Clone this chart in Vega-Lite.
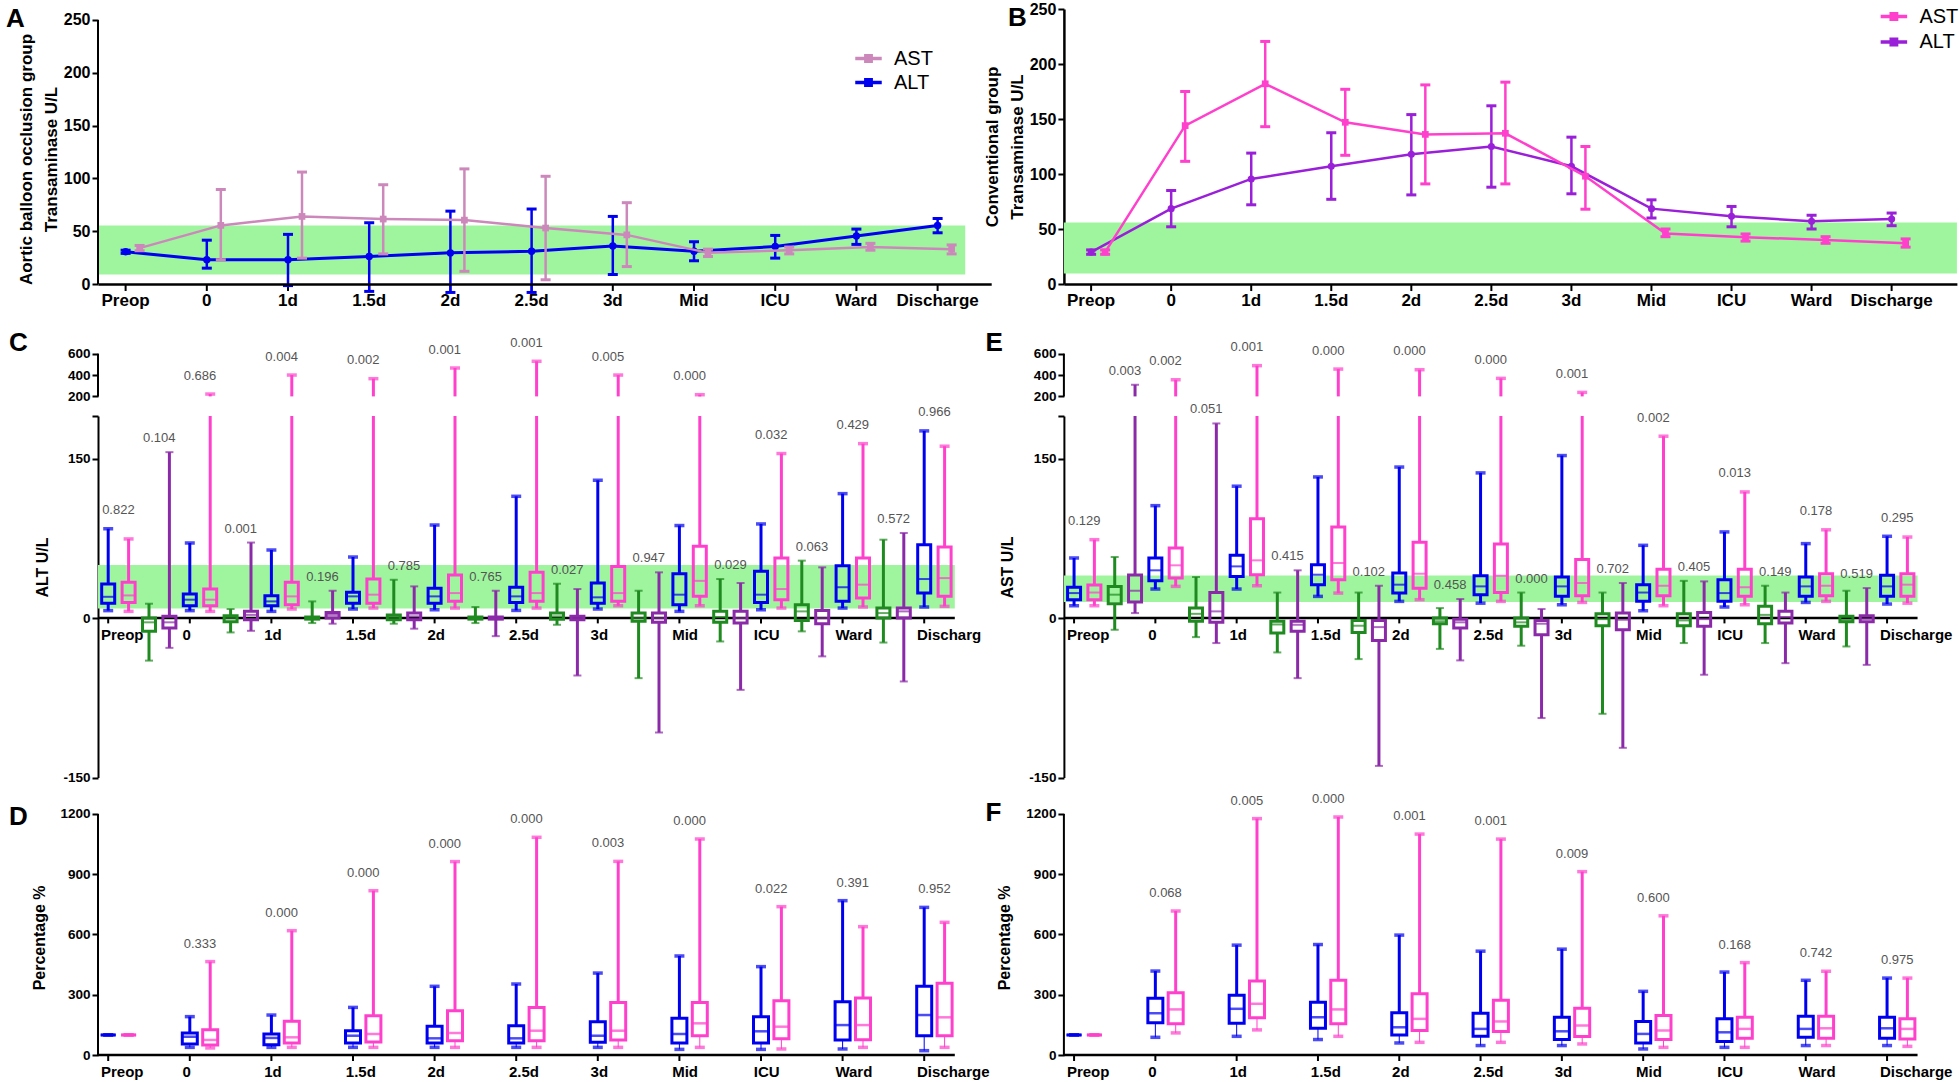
{
"$schema":"https://vega.github.io/schema/vega-lite/v6.json",
"background":"white",
"padding":{"left":6,"top":1,"right":0,"bottom":0},
"bounds":"flush",
"columns":2,
"spacing":{"row":19,"column":67.9},
"resolve":{"scale":{"color":"independent","strokeWidth":"independent","xOffset":"independent"},"legend":{"color":"independent","strokeWidth":"independent"}},
"config":{
 "font":"Liberation Sans",
 "view":{"stroke":null},
 "axis":{"labelColor":"black","labelFont":"Liberation Sans","labelFontWeight":"bold","titleFont":"Liberation Sans","titleFontWeight":"bold","titleColor":"black","domainColor":"black","tickColor":"black","grid":false},
 "legend":{"labelFont":"Liberation Sans","labelColor":"black","padding":0},
 "title":{"font":"Liberation Sans","fontSize":26,"fontWeight":"bold","color":"black","anchor":"start","frame":"group","baseline":"top","offset":0},
 "text":{"font":"Liberation Sans"}
},
"datasets":{
 "frames":[{"panel":"A"},{"panel":"B"},{"panel":"C"},{"panel":"D"},{"panel":"E"},{"panel":"F"}],
 "bands":[{"panel":"A","lo":9,"hi":55.5},{"panel":"B","lo":9.5,"hi":56},{"panel":"C","lo":9,"hi":50},{"panel":"E","lo":15,"hi":40}],
 "times":[{"time":"Preop","labC":"Preop","labE":"Preop"},{"time":"0","labC":"0","labE":"0"},{"time":"1d","labC":"1d","labE":"1d"},{"time":"1.5d","labC":"1.5d","labE":"1.5d"},{"time":"2d","labC":"2d","labE":"2d"},{"time":"2.5d","labC":"2.5d","labE":"2.5d"},{"time":"3d","labC":"3d","labE":"3d"},{"time":"Mid","labC":"Mid","labE":"Mid"},{"time":"ICU","labC":"ICU","labE":"ICU"},{"time":"Ward","labC":"Ward","labE":"Ward"},{"time":"Discharge","labC":"Discharg","labE":"Discharge"}],
 "lines":[
  {"panel":"A","series":"ALT","time":"Preop","mean":30.5,"lo":29,"hi":32},
  {"panel":"A","series":"ALT","time":"0","mean":23,"lo":15,"hi":41.5},
  {"panel":"A","series":"ALT","time":"1d","mean":23,"lo":-1.5,"hi":47},
  {"panel":"A","series":"ALT","time":"1.5d","mean":26,"lo":-7,"hi":58},
  {"panel":"A","series":"ALT","time":"2d","mean":29.5,"lo":-8,"hi":69},
  {"panel":"A","series":"ALT","time":"2.5d","mean":31,"lo":-8,"hi":71},
  {"panel":"A","series":"ALT","time":"3d","mean":36,"lo":9,"hi":64},
  {"panel":"A","series":"ALT","time":"Mid","mean":31,"lo":22,"hi":40},
  {"panel":"A","series":"ALT","time":"ICU","mean":35.5,"lo":24.5,"hi":46},
  {"panel":"A","series":"ALT","time":"Ward","mean":45.5,"lo":37.5,"hi":52},
  {"panel":"A","series":"ALT","time":"Discharge","mean":55.5,"lo":48.5,"hi":62},
  {"panel":"A","series":"AST","time":"Preop","mean":34,"lo":31.5,"hi":36.5},
  {"panel":"A","series":"AST","time":"0","mean":55.5,"lo":23,"hi":89.5},
  {"panel":"A","series":"AST","time":"1d","mean":64,"lo":24.5,"hi":106},
  {"panel":"A","series":"AST","time":"1.5d","mean":61.5,"lo":28.5,"hi":94},
  {"panel":"A","series":"AST","time":"2d","mean":60.5,"lo":12,"hi":109},
  {"panel":"A","series":"AST","time":"2.5d","mean":53,"lo":4,"hi":102},
  {"panel":"A","series":"AST","time":"3d","mean":46.5,"lo":16.5,"hi":77},
  {"panel":"A","series":"AST","time":"Mid","mean":29.5,"lo":26,"hi":33},
  {"panel":"A","series":"AST","time":"ICU","mean":32,"lo":28.5,"hi":35},
  {"panel":"A","series":"AST","time":"Ward","mean":35,"lo":32,"hi":38.5},
  {"panel":"A","series":"AST","time":"Discharge","mean":33,"lo":28.5,"hi":37},
  {"panel":"B","series":"ALT","time":"Preop","mean":29,"lo":27,"hi":31},
  {"panel":"B","series":"ALT","time":"0","mean":68.5,"lo":52,"hi":85},
  {"panel":"B","series":"ALT","time":"1d","mean":95.5,"lo":72,"hi":119},
  {"panel":"B","series":"ALT","time":"1.5d","mean":107,"lo":77,"hi":137.5},
  {"panel":"B","series":"ALT","time":"2d","mean":118,"lo":81,"hi":154},
  {"panel":"B","series":"ALT","time":"2.5d","mean":125,"lo":88,"hi":162},
  {"panel":"B","series":"ALT","time":"3d","mean":107,"lo":82,"hi":133.5},
  {"panel":"B","series":"ALT","time":"Mid","mean":68.5,"lo":60,"hi":76.5},
  {"panel":"B","series":"ALT","time":"ICU","mean":61.5,"lo":52,"hi":70.5},
  {"panel":"B","series":"ALT","time":"Ward","mean":57,"lo":50,"hi":62.5},
  {"panel":"B","series":"ALT","time":"Discharge","mean":59,"lo":53,"hi":64.5},
  {"panel":"B","series":"AST","time":"Preop","mean":29,"lo":27,"hi":31},
  {"panel":"B","series":"AST","time":"0","mean":144,"lo":111.5,"hi":175},
  {"panel":"B","series":"AST","time":"1d","mean":182,"lo":143,"hi":220.5},
  {"panel":"B","series":"AST","time":"1.5d","mean":147,"lo":117,"hi":177},
  {"panel":"B","series":"AST","time":"2d","mean":136,"lo":91,"hi":181},
  {"panel":"B","series":"AST","time":"2.5d","mean":137,"lo":91,"hi":183.5},
  {"panel":"B","series":"AST","time":"3d","mean":98,"lo":68,"hi":125},
  {"panel":"B","series":"AST","time":"Mid","mean":46,"lo":43,"hi":50},
  {"panel":"B","series":"AST","time":"ICU","mean":42.5,"lo":39,"hi":45.5},
  {"panel":"B","series":"AST","time":"Ward","mean":40,"lo":37,"hi":43},
  {"panel":"B","series":"AST","time":"Discharge","mean":37,"lo":33.5,"hi":41}
 ],
 "boxes":[
  {"panel":"C","series":"Balloon","time":"Preop","min":7,"q1":14,"med":20,"q3":32,"max":84},
  {"panel":"C","series":"Balloon","time":"0","min":7,"q1":11.6,"med":17.3,"q3":22.6,"max":70.6},
  {"panel":"C","series":"Balloon","time":"1d","min":6.3,"q1":11.6,"med":15.7,"q3":21,"max":64},
  {"panel":"C","series":"Balloon","time":"1.5d","min":8.5,"q1":14,"med":20.4,"q3":24.2,"max":57.4},
  {"panel":"C","series":"Balloon","time":"2d","min":7.8,"q1":14,"med":20.4,"q3":28,"max":87.5},
  {"panel":"C","series":"Balloon","time":"2.5d","min":7.2,"q1":14.7,"med":20.4,"q3":29,"max":114.5},
  {"panel":"C","series":"Balloon","time":"3d","min":8.5,"q1":14,"med":19.5,"q3":33,"max":129.6},
  {"panel":"C","series":"Balloon","time":"Mid","min":6.3,"q1":12.5,"med":22,"q3":41.7,"max":87},
  {"panel":"C","series":"Balloon","time":"ICU","min":7.8,"q1":14.7,"med":22,"q3":44,"max":88.5},
  {"panel":"C","series":"Balloon","time":"Ward","min":9.4,"q1":15.7,"med":29,"q3":49.3,"max":117},
  {"panel":"C","series":"Balloon","time":"Discharge","min":10.4,"q1":23.5,"med":36.7,"q3":69,"max":176},
  {"panel":"C","series":"Conventional","time":"Preop","min":6.3,"q1":14.7,"med":21.3,"q3":33.6,"max":74.4},
  {"panel":"C","series":"Conventional","time":"0","min":6.3,"q1":11.6,"med":17.3,"q3":27.3,"max":222},
  {"panel":"C","series":"Conventional","time":"1d","min":8.5,"q1":12.5,"med":20.4,"q3":33.6,"max":400},
  {"panel":"C","series":"Conventional","time":"1.5d","min":9.4,"q1":14,"med":22,"q3":36.7,"max":366},
  {"panel":"C","series":"Conventional","time":"2d","min":9.4,"q1":15.7,"med":23.5,"q3":40.5,"max":466},
  {"panel":"C","series":"Conventional","time":"2.5d","min":9.4,"q1":15.7,"med":23.5,"q3":43,"max":529},
  {"panel":"C","series":"Conventional","time":"3d","min":11.6,"q1":15.7,"med":23.5,"q3":48.6,"max":400},
  {"panel":"C","series":"Conventional","time":"Mid","min":11.6,"q1":20.4,"med":35,"q3":67.5,"max":216},
  {"panel":"C","series":"Conventional","time":"ICU","min":9.4,"q1":17.3,"med":27.3,"q3":56.5,"max":154.7},
  {"panel":"C","series":"Conventional","time":"Ward","min":10.4,"q1":18.8,"med":31.4,"q3":56.5,"max":164},
  {"panel":"C","series":"Conventional","time":"Discharge","min":11,"q1":20.4,"med":37.6,"q3":66.8,"max":161.6},
  {"panel":"C","series":"Balloon change","time":"Preop","min":-40,"q1":-12.5,"med":-4,"q3":0,"max":13.5},
  {"panel":"C","series":"Balloon change","time":"0","min":-13.5,"q1":-3.5,"med":0,"q3":2.2,"max":8.5},
  {"panel":"C","series":"Balloon change","time":"1d","min":-4.7,"q1":-1,"med":0,"q3":1,"max":15.7},
  {"panel":"C","series":"Balloon change","time":"1.5d","min":-5.3,"q1":-1.6,"med":1,"q3":3,"max":36},
  {"panel":"C","series":"Balloon change","time":"2d","min":-4.7,"q1":-1,"med":0,"q3":1,"max":10.4},
  {"panel":"C","series":"Balloon change","time":"2.5d","min":-6.3,"q1":-1,"med":1.6,"q3":4.7,"max":32.3},
  {"panel":"C","series":"Balloon change","time":"3d","min":-56.5,"q1":-3,"med":0,"q3":4.7,"max":25.7},
  {"panel":"C","series":"Balloon change","time":"Mid","min":-22,"q1":-4,"med":1,"q3":6.3,"max":36.7},
  {"panel":"C","series":"Balloon change","time":"ICU","min":-12.5,"q1":-2.2,"med":6.3,"q3":12.5,"max":54},
  {"panel":"C","series":"Balloon change","time":"Ward","min":-23,"q1":0,"med":4.7,"q3":9.4,"max":73.7},
  {"panel":"C","series":"Conventional change","time":"Preop","min":-28,"q1":-9.4,"med":-4,"q3":1.6,"max":156},
  {"panel":"C","series":"Conventional change","time":"0","min":-12,"q1":-1.6,"med":3,"q3":6.3,"max":71},
  {"panel":"C","series":"Conventional change","time":"1d","min":-5.3,"q1":0,"med":3,"q3":5.3,"max":25.7},
  {"panel":"C","series":"Conventional change","time":"1.5d","min":-10,"q1":-1.6,"med":1.6,"q3":4.7,"max":29.8},
  {"panel":"C","series":"Conventional change","time":"2d","min":-17,"q1":-1,"med":0,"q3":1,"max":25.7},
  {"panel":"C","series":"Conventional change","time":"2.5d","min":-54,"q1":-1.6,"med":0,"q3":1.6,"max":27.3},
  {"panel":"C","series":"Conventional change","time":"3d","min":-107.6,"q1":-4,"med":0,"q3":4.7,"max":43},
  {"panel":"C","series":"Conventional change","time":"Mid","min":-67.5,"q1":-4.7,"med":0,"q3":6.3,"max":33},
  {"panel":"C","series":"Conventional change","time":"ICU","min":-36,"q1":-5.3,"med":0,"q3":7.2,"max":47.7},
  {"panel":"C","series":"Conventional change","time":"Ward","min":-59.6,"q1":0,"med":6.3,"q3":9.4,"max":80},
  {"panel":"E","series":"Balloon","time":"Preop","min":11.6,"q1":17.3,"med":23.5,"q3":29,"max":56.5},
  {"panel":"E","series":"Balloon","time":"0","min":27.3,"q1":35,"med":44.9,"q3":56.5,"max":105.7},
  {"panel":"E","series":"Balloon","time":"1d","min":27.3,"q1":39,"med":48.6,"q3":59,"max":124},
  {"panel":"E","series":"Balloon","time":"1.5d","min":20.4,"q1":31.4,"med":40.8,"q3":50.2,"max":132.7},
  {"panel":"E","series":"Balloon","time":"2d","min":15.7,"q1":23.5,"med":31.4,"q3":42.4,"max":142},
  {"panel":"E","series":"Balloon","time":"2.5d","min":14,"q1":22,"med":29.8,"q3":39.8,"max":136.5},
  {"panel":"E","series":"Balloon","time":"3d","min":12.5,"q1":20.4,"med":29.8,"q3":38.6,"max":152.8},
  {"panel":"E","series":"Balloon","time":"Mid","min":6.9,"q1":15.7,"med":24,"q3":31.4,"max":68.4},
  {"panel":"E","series":"Balloon","time":"ICU","min":10.4,"q1":15.7,"med":23.5,"q3":36,"max":81},
  {"panel":"E","series":"Balloon","time":"Ward","min":14.7,"q1":20.4,"med":29.8,"q3":38.6,"max":70},
  {"panel":"E","series":"Balloon","time":"Discharge","min":13.2,"q1":20.4,"med":29.8,"q3":40.2,"max":76.9},
  {"panel":"E","series":"Conventional","time":"Preop","min":11.6,"q1":17.3,"med":24,"q3":31,"max":73.7},
  {"panel":"E","series":"Conventional","time":"0","min":29.8,"q1":37.6,"med":49.6,"q3":66,"max":356},
  {"panel":"E","series":"Conventional","time":"1d","min":30.4,"q1":40.8,"med":54.3,"q3":93.5,"max":488},
  {"panel":"E","series":"Conventional","time":"1.5d","min":23.5,"q1":36,"med":51.8,"q3":85.7,"max":456},
  {"panel":"E","series":"Conventional","time":"2d","min":17.3,"q1":28,"med":41.7,"q3":71.2,"max":450},
  {"panel":"E","series":"Conventional","time":"2.5d","min":15.7,"q1":24,"med":39.8,"q3":69.7,"max":369},
  {"panel":"E","series":"Conventional","time":"3d","min":14.7,"q1":21,"med":33,"q3":55,"max":237.5},
  {"panel":"E","series":"Conventional","time":"Mid","min":11.6,"q1":21,"med":30.4,"q3":46,"max":171},
  {"panel":"E","series":"Conventional","time":"ICU","min":12.5,"q1":20.4,"med":29,"q3":46,"max":118.6},
  {"panel":"E","series":"Conventional","time":"Ward","min":15.7,"q1":21,"med":30.4,"q3":41.7,"max":83},
  {"panel":"E","series":"Conventional","time":"Discharge","min":14,"q1":20.4,"med":31.4,"q3":41.7,"max":76.2},
  {"panel":"E","series":"Balloon change","time":"Preop","min":-11,"q1":13.5,"med":22,"q3":29.8,"max":57.4},
  {"panel":"E","series":"Balloon change","time":"0","min":-17.9,"q1":-3,"med":4,"q3":9.4,"max":38.6},
  {"panel":"E","series":"Balloon change","time":"1d","min":-32.3,"q1":-14,"med":-6,"q3":-3,"max":24},
  {"panel":"E","series":"Balloon change","time":"1.5d","min":-38.6,"q1":-13.5,"med":-7.2,"q3":-2.2,"max":24},
  {"panel":"E","series":"Balloon change","time":"2d","min":-29,"q1":-5.3,"med":-3,"q3":0,"max":9.4},
  {"panel":"E","series":"Balloon change","time":"2.5d","min":-26,"q1":-7.8,"med":-4,"q3":0,"max":24},
  {"panel":"E","series":"Balloon change","time":"3d","min":-90,"q1":-7.2,"med":-1,"q3":4,"max":24},
  {"panel":"E","series":"Balloon change","time":"Mid","min":-23.5,"q1":-7.2,"med":-2.2,"q3":4,"max":35},
  {"panel":"E","series":"Balloon change","time":"ICU","min":-23.5,"q1":-5.3,"med":3,"q3":11,"max":30.4},
  {"panel":"E","series":"Balloon change","time":"Ward","min":-26.7,"q1":-3.5,"med":-1.6,"q3":1.6,"max":25.7},
  {"panel":"E","series":"Conventional change","time":"Preop","min":4.7,"q1":15,"med":25.7,"q3":40.5,"max":309},
  {"panel":"E","series":"Conventional change","time":"0","min":-23.5,"q1":-4,"med":6.3,"q3":24,"max":183},
  {"panel":"E","series":"Conventional change","time":"1d","min":-56.5,"q1":-12.5,"med":-6.3,"q3":-3,"max":44.9},
  {"panel":"E","series":"Conventional change","time":"1.5d","min":-139,"q1":-21,"med":-8.5,"q3":-2.2,"max":30.4},
  {"panel":"E","series":"Conventional change","time":"2d","min":-39.8,"q1":-9.4,"med":-4,"q3":-1,"max":17.9},
  {"panel":"E","series":"Conventional change","time":"2.5d","min":-94,"q1":-15.7,"med":-5.3,"q3":-2.2,"max":8.5},
  {"panel":"E","series":"Conventional change","time":"3d","min":-122,"q1":-11,"med":-1.6,"q3":4.7,"max":33},
  {"panel":"E","series":"Conventional change","time":"Mid","min":-53.3,"q1":-7.8,"med":-1,"q3":5.3,"max":34.5},
  {"panel":"E","series":"Conventional change","time":"ICU","min":-42.4,"q1":-4.7,"med":1,"q3":6.3,"max":24},
  {"panel":"E","series":"Conventional change","time":"Ward","min":-44,"q1":-3.5,"med":-0.6,"q3":2.2,"max":28.2},
  {"panel":"D","series":"Balloon","time":"Preop","min":100,"q1":100,"med":100,"q3":100,"max":100},
  {"panel":"D","series":"Balloon","time":"0","min":38,"q1":55,"med":91,"q3":109.5,"max":191},
  {"panel":"D","series":"Balloon","time":"1d","min":38,"q1":51.5,"med":85,"q3":104.6,"max":199},
  {"panel":"D","series":"Balloon","time":"1.5d","min":38,"q1":60,"med":96,"q3":121,"max":237},
  {"panel":"D","series":"Balloon","time":"2d","min":38,"q1":60,"med":83,"q3":142.7,"max":342},
  {"panel":"D","series":"Balloon","time":"2.5d","min":38,"q1":60,"med":83,"q3":146,"max":353.5},
  {"panel":"D","series":"Balloon","time":"3d","min":38,"q1":63,"med":96,"q3":166,"max":408},
  {"panel":"D","series":"Balloon","time":"Mid","min":28,"q1":60,"med":104.6,"q3":182.6,"max":493},
  {"panel":"D","series":"Balloon","time":"ICU","min":28,"q1":60,"med":118,"q3":191,"max":440},
  {"panel":"D","series":"Balloon","time":"Ward","min":30,"q1":74.7,"med":149,"q3":265.6,"max":768.5},
  {"panel":"D","series":"Balloon","time":"Discharge","min":21.6,"q1":96,"med":199,"q3":342,"max":735},
  {"panel":"D","series":"Conventional","time":"Preop","min":100,"q1":100,"med":100,"q3":100,"max":100},
  {"panel":"D","series":"Conventional","time":"0","min":35,"q1":50,"med":75,"q3":126,"max":465},
  {"panel":"D","series":"Conventional","time":"1d","min":38,"q1":60,"med":88,"q3":167.6,"max":619},
  {"panel":"D","series":"Conventional","time":"1.5d","min":38,"q1":64.7,"med":104.6,"q3":196,"max":818},
  {"panel":"D","series":"Conventional","time":"2d","min":38,"q1":71.4,"med":109.5,"q3":220.7,"max":963},
  {"panel":"D","series":"Conventional","time":"2.5d","min":38,"q1":71.4,"med":121,"q3":237,"max":1084},
  {"panel":"D","series":"Conventional","time":"3d","min":38,"q1":74.7,"med":121,"q3":262,"max":964},
  {"panel":"D","series":"Conventional","time":"Mid","min":38,"q1":96,"med":157.7,"q3":262,"max":1075.5},
  {"panel":"D","series":"Conventional","time":"ICU","min":30,"q1":81,"med":141,"q3":270.5,"max":738.6},
  {"panel":"D","series":"Conventional","time":"Ward","min":38,"q1":76,"med":149,"q3":283.8,"max":639},
  {"panel":"D","series":"Conventional","time":"Discharge","min":38,"q1":96,"med":187.6,"q3":357,"max":660.6},
  {"panel":"F","series":"Balloon","time":"Preop","min":100,"q1":100,"med":100,"q3":100,"max":100},
  {"panel":"F","series":"Balloon","time":"0","min":88,"q1":160,"med":208,"q3":283,"max":418},
  {"panel":"F","series":"Balloon","time":"1d","min":93,"q1":158,"med":230,"q3":297,"max":547},
  {"panel":"F","series":"Balloon","time":"1.5d","min":77,"q1":133,"med":188,"q3":263,"max":550},
  {"panel":"F","series":"Balloon","time":"2d","min":60,"q1":100,"med":138,"q3":210,"max":597},
  {"panel":"F","series":"Balloon","time":"2.5d","min":47,"q1":93,"med":130,"q3":208,"max":517},
  {"panel":"F","series":"Balloon","time":"3d","min":47,"q1":77,"med":118,"q3":188,"max":527},
  {"panel":"F","series":"Balloon","time":"Mid","min":30,"q1":60,"med":105,"q3":167,"max":317},
  {"panel":"F","series":"Balloon","time":"ICU","min":38,"q1":67,"med":113,"q3":180,"max":413},
  {"panel":"F","series":"Balloon","time":"Ward","min":47,"q1":88,"med":130,"q3":193,"max":372},
  {"panel":"F","series":"Balloon","time":"Discharge","min":47,"q1":83,"med":133,"q3":188,"max":383},
  {"panel":"F","series":"Conventional","time":"Preop","min":100,"q1":100,"med":100,"q3":100,"max":100},
  {"panel":"F","series":"Conventional","time":"0","min":110,"q1":155,"med":227,"q3":310,"max":717},
  {"panel":"F","series":"Conventional","time":"1d","min":125,"q1":185,"med":255,"q3":368,"max":1177},
  {"panel":"F","series":"Conventional","time":"1.5d","min":93,"q1":155,"med":227,"q3":372,"max":1185},
  {"panel":"F","series":"Conventional","time":"2d","min":63,"q1":122,"med":180,"q3":305,"max":1100},
  {"panel":"F","series":"Conventional","time":"2.5d","min":63,"q1":117,"med":167,"q3":272,"max":1075},
  {"panel":"F","series":"Conventional","time":"3d","min":55,"q1":92,"med":147,"q3":233,"max":913},
  {"panel":"F","series":"Conventional","time":"Mid","min":38,"q1":77,"med":122,"q3":197,"max":693},
  {"panel":"F","series":"Conventional","time":"ICU","min":38,"q1":83,"med":130,"q3":188,"max":460},
  {"panel":"F","series":"Conventional","time":"Ward","min":47,"q1":83,"med":133,"q3":193,"max":417},
  {"panel":"F","series":"Conventional","time":"Discharge","min":43,"q1":80,"med":130,"q3":180,"max":383}
 ],
 "pvals":[
  {"panel":"C","pair":"Balloon","time":"Preop","p":"0.822","top":84},
  {"panel":"C","pair":"Balloon","time":"0","p":"0.686","top":222},
  {"panel":"C","pair":"Balloon","time":"1d","p":"0.004","top":400},
  {"panel":"C","pair":"Balloon","time":"1.5d","p":"0.002","top":366},
  {"panel":"C","pair":"Balloon","time":"2d","p":"0.001","top":466},
  {"panel":"C","pair":"Balloon","time":"2.5d","p":"0.001","top":529},
  {"panel":"C","pair":"Balloon","time":"3d","p":"0.005","top":400},
  {"panel":"C","pair":"Balloon","time":"Mid","p":"0.000","top":216},
  {"panel":"C","pair":"Balloon","time":"ICU","p":"0.032","top":154.7},
  {"panel":"C","pair":"Balloon","time":"Ward","p":"0.429","top":164},
  {"panel":"C","pair":"Balloon","time":"Discharge","p":"0.966","top":176},
  {"panel":"C","pair":"Balloon change","time":"Preop","p":"0.104","top":156},
  {"panel":"C","pair":"Balloon change","time":"0","p":"0.001","top":71},
  {"panel":"C","pair":"Balloon change","time":"1d","p":"0.196","top":25.7},
  {"panel":"C","pair":"Balloon change","time":"1.5d","p":"0.785","top":36},
  {"panel":"C","pair":"Balloon change","time":"2d","p":"0.765","top":25.7},
  {"panel":"C","pair":"Balloon change","time":"2.5d","p":"0.027","top":32.3},
  {"panel":"C","pair":"Balloon change","time":"3d","p":"0.947","top":43},
  {"panel":"C","pair":"Balloon change","time":"Mid","p":"0.029","top":36.7},
  {"panel":"C","pair":"Balloon change","time":"ICU","p":"0.063","top":54},
  {"panel":"C","pair":"Balloon change","time":"Ward","p":"0.572","top":80},
  {"panel":"E","pair":"Balloon","time":"Preop","p":"0.129","top":73.7},
  {"panel":"E","pair":"Balloon","time":"0","p":"0.002","top":356},
  {"panel":"E","pair":"Balloon","time":"1d","p":"0.001","top":488},
  {"panel":"E","pair":"Balloon","time":"1.5d","p":"0.000","top":456},
  {"panel":"E","pair":"Balloon","time":"2d","p":"0.000","top":450},
  {"panel":"E","pair":"Balloon","time":"2.5d","p":"0.000","top":369},
  {"panel":"E","pair":"Balloon","time":"3d","p":"0.001","top":237.5},
  {"panel":"E","pair":"Balloon","time":"Mid","p":"0.002","top":171},
  {"panel":"E","pair":"Balloon","time":"ICU","p":"0.013","top":118.6},
  {"panel":"E","pair":"Balloon","time":"Ward","p":"0.178","top":83},
  {"panel":"E","pair":"Balloon","time":"Discharge","p":"0.295","top":76.9},
  {"panel":"E","pair":"Balloon change","time":"Preop","p":"0.003","top":309},
  {"panel":"E","pair":"Balloon change","time":"0","p":"0.051","top":183},
  {"panel":"E","pair":"Balloon change","time":"1d","p":"0.415","top":44.9},
  {"panel":"E","pair":"Balloon change","time":"1.5d","p":"0.102","top":30.4},
  {"panel":"E","pair":"Balloon change","time":"2d","p":"0.458","top":17.9},
  {"panel":"E","pair":"Balloon change","time":"2.5d","p":"0.000","top":24},
  {"panel":"E","pair":"Balloon change","time":"3d","p":"0.702","top":33},
  {"panel":"E","pair":"Balloon change","time":"Mid","p":"0.405","top":35},
  {"panel":"E","pair":"Balloon change","time":"ICU","p":"0.149","top":30.4},
  {"panel":"E","pair":"Balloon change","time":"Ward","p":"0.519","top":28.2},
  {"panel":"D","pair":"Balloon","time":"0","p":"0.333","top":465},
  {"panel":"D","pair":"Balloon","time":"1d","p":"0.000","top":619},
  {"panel":"D","pair":"Balloon","time":"1.5d","p":"0.000","top":818},
  {"panel":"D","pair":"Balloon","time":"2d","p":"0.000","top":963},
  {"panel":"D","pair":"Balloon","time":"2.5d","p":"0.000","top":1084},
  {"panel":"D","pair":"Balloon","time":"3d","p":"0.003","top":964},
  {"panel":"D","pair":"Balloon","time":"Mid","p":"0.000","top":1075.5},
  {"panel":"D","pair":"Balloon","time":"ICU","p":"0.022","top":738.6},
  {"panel":"D","pair":"Balloon","time":"Ward","p":"0.391","top":768.5},
  {"panel":"D","pair":"Balloon","time":"Discharge","p":"0.952","top":735},
  {"panel":"F","pair":"Balloon","time":"0","p":"0.068","top":717},
  {"panel":"F","pair":"Balloon","time":"1d","p":"0.005","top":1177},
  {"panel":"F","pair":"Balloon","time":"1.5d","p":"0.000","top":1185},
  {"panel":"F","pair":"Balloon","time":"2d","p":"0.001","top":1100},
  {"panel":"F","pair":"Balloon","time":"2.5d","p":"0.001","top":1075},
  {"panel":"F","pair":"Balloon","time":"3d","p":"0.009","top":913},
  {"panel":"F","pair":"Balloon","time":"Mid","p":"0.600","top":693},
  {"panel":"F","pair":"Balloon","time":"ICU","p":"0.168","top":460},
  {"panel":"F","pair":"Balloon","time":"Ward","p":"0.742","top":417},
  {"panel":"F","pair":"Balloon","time":"Discharge","p":"0.975","top":383}
 ]
},
"concat":[
 {"title":{"text":"A","dx":-92,"dy":27},"width":893.2,"height":275,
  "layer":[
   {"data":{"name":"bands"},"transform":[{"filter":"datum.panel=='A'"}],"mark":{"type":"rect","color":"#9ef59e"},
    "encoding":{"x":{"datum":"Preop","type":"nominal","bandPosition":0,"scale":{"domain":["Preop","0","1d","1.5d","2d","2.5d","3d","Mid","ICU","Ward","Discharge"],"paddingInner":0,"paddingOuter":0},
      "axis":{"labels":false,"ticks":false,"domainWidth":2.5,"title":null}},
     "x2":{"datum":"Discharge","bandPosition":0.68},
     "y":{"field":"lo","type":"quantitative","scale":{"domain":[0,260.4],"nice":false,"zero":false},
      "axis":{"values":[0,50,100,150,200,250],"domain":false,"format":"d","labelFontSize":16,"tickSize":6,"tickWidth":2,"labelPadding":2,"title":["Aortic balloon occlusion group","Transaminase U/L"],"titleFontSize":17,"titleX":-62.5,"titleY":150,"titleBaseline":"bottom","titleAngle":-90,"titleAlign":"center","titleLineHeight":25}},
     "y2":{"field":"hi"}}},
   {"data":{"name":"frames"},"transform":[{"filter":"datum.panel=='A'"}],"mark":{"type":"rule","color":"black","strokeWidth":2},
    "encoding":{"x":{"datum":"Preop","type":"nominal","bandPosition":0},"y":{"datum":0,"type":"quantitative"},"y2":{"datum":250}}},
   {"data":{"name":"times"},"mark":{"type":"rule","color":"black","strokeWidth":2},
    "encoding":{"x":{"field":"time","type":"nominal","bandPosition":0.34},"y":{"datum":0,"type":"quantitative"},"y2":{"datum":-6.6}}},
   {"data":{"name":"times"},"mark":{"type":"text","align":"center","baseline":"middle","dy":17,"fontWeight":"bold","fontSize":17,"color":"black"},
    "encoding":{"x":{"field":"time","type":"nominal","bandPosition":0.34},"y":{"datum":0,"type":"quantitative"},"text":{"field":"labE"}}},
   {"data":{"name":"lines"},"transform":[{"filter":"datum.panel=='A' && datum.series=='ALT'"}],"mark":{"type":"rule","strokeWidth":2.5},
    "encoding":{"x":{"field":"time","type":"nominal","bandPosition":0.34},"y":{"field":"lo","type":"quantitative"},"y2":{"field":"hi"},
     "color":{"field":"series","type":"nominal","scale":{"domain":["AST","ALT"],"range":["#cc88bb","#0000f0"]}}}},
   {"data":{"name":"lines"},"transform":[{"filter":"datum.panel=='A' && datum.series=='ALT'"},{"fold":["lo","hi"],"as":["stat","v"]}],"mark":{"type":"point","shape":"M-1,0H1","filled":false,"strokeWidth":3,"size":100,"opacity":1},
    "encoding":{"x":{"field":"time","type":"nominal","bandPosition":0.34},"y":{"field":"v","type":"quantitative"},
     "color":{"field":"series","type":"nominal"}}},
   {"data":{"name":"lines"},"transform":[{"filter":"datum.panel=='A' && datum.series=='ALT'"}],"mark":{"type":"line","strokeWidth":3},
    "encoding":{"x":{"field":"time","type":"nominal","bandPosition":0.34,"sort":["Preop","0","1d","1.5d","2d","2.5d","3d","Mid","ICU","Ward","Discharge"]},"y":{"field":"mean","type":"quantitative"},
     "color":{"field":"series","type":"nominal",
      "legend":{"orient":"none","legendX":757,"legendY":36,"title":null,"symbolType":"M-1,-0.06H1V0.06H-1Z M-0.28,-0.28H0.28V0.28H-0.28Z","symbolSize":600,"symbolStrokeWidth":2,"labelFontSize":20,"labelFontWeight":"normal","labelOffset":12,"rowPadding":0}}}},
   {"data":{"name":"lines"},"transform":[{"filter":"datum.panel=='A' && datum.series=='ALT'"}],"mark":{"type":"point","shape":"circle","filled":true,"size":55,"opacity":1},
    "encoding":{"x":{"field":"time","type":"nominal","bandPosition":0.34},"y":{"field":"mean","type":"quantitative"},
     "color":{"field":"series","type":"nominal"}}},
   {"data":{"name":"lines"},"transform":[{"filter":"datum.panel=='A' && datum.series=='AST'"}],"mark":{"type":"rule","strokeWidth":2.5,"xOffset":14},
    "encoding":{"x":{"field":"time","type":"nominal","bandPosition":0.34},"y":{"field":"lo","type":"quantitative"},"y2":{"field":"hi"},
     "color":{"field":"series","type":"nominal"}}},
   {"data":{"name":"lines"},"transform":[{"filter":"datum.panel=='A' && datum.series=='AST'"},{"fold":["lo","hi"],"as":["stat","v"]}],"mark":{"type":"point","shape":"M-1,0H1","filled":false,"strokeWidth":3,"size":100,"opacity":1,"xOffset":14},
    "encoding":{"x":{"field":"time","type":"nominal","bandPosition":0.34},"y":{"field":"v","type":"quantitative"},
     "color":{"field":"series","type":"nominal"}}},
   {"data":{"name":"lines"},"transform":[{"filter":"datum.panel=='A' && datum.series=='AST'"}],"mark":{"type":"line","strokeWidth":2.5,"xOffset":14},
    "encoding":{"x":{"field":"time","type":"nominal","bandPosition":0.34,"sort":["Preop","0","1d","1.5d","2d","2.5d","3d","Mid","ICU","Ward","Discharge"]},"y":{"field":"mean","type":"quantitative"},
     "color":{"field":"series","type":"nominal"}}},
   {"data":{"name":"lines"},"transform":[{"filter":"datum.panel=='A' && datum.series=='AST'"}],"mark":{"type":"point","shape":"square","filled":true,"size":45,"opacity":1,"xOffset":14},
    "encoding":{"x":{"field":"time","type":"nominal","bandPosition":0.34},"y":{"field":"mean","type":"quantitative"},
     "color":{"field":"series","type":"nominal"}}}
  ]},
 {"title":{"text":"B","dx":-56,"dy":33.5},"width":893,"height":275,
  "layer":[
   {"data":{"name":"bands"},"transform":[{"filter":"datum.panel=='B'"}],"mark":{"type":"rect","color":"#9ef59e"},
    "encoding":{"y":{"field":"lo","type":"quantitative","scale":{"domain":[0,250],"nice":false,"zero":false},
      "axis":{"values":[0,50,100,150,200,250],"format":"d","labelFontSize":16,"tickSize":6,"tickWidth":2,"domainWidth":2.5,"labelPadding":2,"title":["Conventional group","Transaminase U/L"],"titleFontSize":17,"titleX":-62,"titleBaseline":"bottom","titleAngle":-90,"titleAlign":"center","titleLineHeight":25}},
     "y2":{"field":"hi"}}},
   {"data":{"name":"times"},"mark":{"type":"rule","color":"black","strokeWidth":2},
    "encoding":{"x":{"field":"time","type":"nominal","bandPosition":0.34,"scale":{"domain":["Preop","0","1d","1.5d","2d","2.5d","3d","Mid","ICU","Ward","Discharge"],"paddingInner":0,"paddingOuter":0.0777,"align":0},
      "axis":{"labels":false,"ticks":false,"domainWidth":2.5,"title":null}},
     "y":{"datum":0,"type":"quantitative"},"y2":{"datum":-6.4}}},
   {"data":{"name":"times"},"mark":{"type":"text","align":"center","baseline":"middle","dy":17,"fontWeight":"bold","fontSize":17,"color":"black"},
    "encoding":{"x":{"field":"time","type":"nominal","bandPosition":0.34},"y":{"datum":0,"type":"quantitative"},"text":{"field":"labE"}}},
   {"data":{"name":"lines"},"transform":[{"filter":"datum.panel=='B' && datum.series=='ALT'"}],"mark":{"type":"rule","strokeWidth":2.5},
    "encoding":{"x":{"field":"time","type":"nominal","bandPosition":0.34},
     "y":{"field":"lo","type":"quantitative"},"y2":{"field":"hi"},
     "color":{"field":"series","type":"nominal","scale":{"domain":["AST","ALT"],"range":["#ff40cc","#9a1fd8"]}}}},
   {"data":{"name":"lines"},"transform":[{"filter":"datum.panel=='B' && datum.series=='ALT'"},{"fold":["lo","hi"],"as":["stat","v"]}],"mark":{"type":"point","shape":"M-1,0H1","filled":false,"strokeWidth":3,"size":100,"opacity":1},
    "encoding":{"x":{"field":"time","type":"nominal","bandPosition":0.34},"y":{"field":"v","type":"quantitative"},
     "color":{"field":"series","type":"nominal"}}},
   {"data":{"name":"lines"},"transform":[{"filter":"datum.panel=='B' && datum.series=='ALT'"}],"mark":{"type":"line","strokeWidth":2.5},
    "encoding":{"x":{"field":"time","type":"nominal","bandPosition":0.34,"sort":["Preop","0","1d","1.5d","2d","2.5d","3d","Mid","ICU","Ward","Discharge"]},"y":{"field":"mean","type":"quantitative"},
     "color":{"field":"series","type":"nominal",
      "legend":{"orient":"none","legendX":816.5,"legendY":-6,"title":null,"symbolType":"M-1,-0.06H1V0.06H-1Z M-0.28,-0.28H0.28V0.28H-0.28Z","symbolSize":600,"symbolStrokeWidth":2,"labelFontSize":20,"labelFontWeight":"normal","labelOffset":12,"rowPadding":1.5}}}},
   {"data":{"name":"lines"},"transform":[{"filter":"datum.panel=='B' && datum.series=='ALT'"}],"mark":{"type":"point","shape":"circle","filled":true,"size":50,"opacity":1},
    "encoding":{"x":{"field":"time","type":"nominal","bandPosition":0.34},"y":{"field":"mean","type":"quantitative"},
     "color":{"field":"series","type":"nominal"}}},
   {"data":{"name":"lines"},"transform":[{"filter":"datum.panel=='B' && datum.series=='AST'"}],"mark":{"type":"rule","strokeWidth":2.5,"xOffset":14},
    "encoding":{"x":{"field":"time","type":"nominal","bandPosition":0.34},"y":{"field":"lo","type":"quantitative"},"y2":{"field":"hi"},
     "color":{"field":"series","type":"nominal"}}},
   {"data":{"name":"lines"},"transform":[{"filter":"datum.panel=='B' && datum.series=='AST'"},{"fold":["lo","hi"],"as":["stat","v"]}],"mark":{"type":"point","shape":"M-1,0H1","filled":false,"strokeWidth":3,"size":100,"opacity":1,"xOffset":14},
    "encoding":{"x":{"field":"time","type":"nominal","bandPosition":0.34},"y":{"field":"v","type":"quantitative"},
     "color":{"field":"series","type":"nominal"}}},
   {"data":{"name":"lines"},"transform":[{"filter":"datum.panel=='B' && datum.series=='AST'"}],"mark":{"type":"line","strokeWidth":2.5,"xOffset":14},
    "encoding":{"x":{"field":"time","type":"nominal","bandPosition":0.34,"sort":["Preop","0","1d","1.5d","2d","2.5d","3d","Mid","ICU","Ward","Discharge"]},"y":{"field":"mean","type":"quantitative"},
     "color":{"field":"series","type":"nominal"}}},
   {"data":{"name":"lines"},"transform":[{"filter":"datum.panel=='B' && datum.series=='AST'"}],"mark":{"type":"point","shape":"square","filled":true,"size":45,"opacity":1,"xOffset":14},
    "encoding":{"x":{"field":"time","type":"nominal","bandPosition":0.34},"y":{"field":"mean","type":"quantitative"},
     "color":{"field":"series","type":"nominal"}}}
  ]},
 {"title":{"text":"C","dx":-89,"dy":56.7},"width":897.6,"height":93.4,
  "layer":[
   {"data":{"name":"frames"},"transform":[{"filter":"datum.panel=='C'"}],"mark":{"type":"rule","color":"black","strokeWidth":2},
    "encoding":{"x":{"datum":"Preop","type":"nominal","bandPosition":0,"scale":{"domain":["Preop","0","1d","1.5d","2d","2.5d","3d","Mid","ICU","Ward","Discharge"],"paddingInner":0,"paddingOuter":0},"axis":null},
     "y":{"datum":200,"type":"quantitative","scale":{"domain":[200,1075],"nice":false,"zero":false,"clamp":true}},
     "y2":{"datum":600}}},
   {"data":{"name":"boxes"},"transform":[{"filter":"datum.panel=='C' && datum.max>=200"}],"mark":{"type":"rule"},
    "encoding":{"x":{"field":"time","type":"nominal","axis":null},"xOffset":{"field":"series","type":"nominal","scale":{"domain":["Balloon","Conventional","Balloon change","Conventional change"],"paddingInner":0,"paddingOuter":0}},
     "y":{"field":"max","type":"quantitative","axis":{"values":[200,400,600],"domain":false,"format":"d","labelFontSize":13.5,"tickSize":6,"tickWidth":2,"labelPadding":2,"title":null}},"y2":{"datum":200},
     "color":{"field":"series","type":"nominal","scale":{"domain":["Balloon","Conventional","Balloon change","Conventional change"],"range":["#0000f0","#ff40cc","#1f8a1f","#8b2aa8"]},"legend":null},
     "strokeWidth":{"field":"series","type":"nominal","scale":{"domain":["Balloon","Conventional","Balloon change","Conventional change"],"range":[3,3,1.8,1.8]},"legend":null}}},
   {"data":{"name":"boxes"},"transform":[{"filter":"datum.panel=='C' && datum.max>=200 && (datum.series=='Balloon' || datum.series=='Conventional')"}],"mark":{"type":"tick","orient":"horizontal","size":10,"thickness":3.5},
    "encoding":{"x":{"field":"time","type":"nominal","axis":null},"xOffset":{"field":"series","type":"nominal"},"y":{"field":"max","type":"quantitative"},
     "color":{"field":"series","type":"nominal","legend":null}}},
   {"data":{"name":"boxes"},"transform":[{"filter":"datum.panel=='C' && datum.max>=200 && (datum.series=='Balloon change' || datum.series=='Conventional change')"}],"mark":{"type":"tick","orient":"horizontal","size":8,"thickness":2},
    "encoding":{"x":{"field":"time","type":"nominal","axis":null},"xOffset":{"field":"series","type":"nominal"},"y":{"field":"max","type":"quantitative"},
     "color":{"field":"series","type":"nominal","legend":null}}},
   {"data":{"name":"pvals"},"transform":[{"filter":"datum.panel=='C' && datum.top>=200 && datum.pair=='Balloon'"}],"mark":{"type":"text","dx":10.2,"dy":-18.5,"fontSize":13,"color":"#555555"},
    "encoding":{"x":{"field":"time","type":"nominal","axis":null},"xOffset":{"field":"pair","type":"nominal"},"y":{"field":"top","type":"quantitative"},"text":{"field":"p"}}},
   {"data":{"name":"pvals"},"transform":[{"filter":"datum.panel=='C' && datum.top>=200 && datum.pair=='Balloon change'"}],"mark":{"type":"text","dx":10.2,"dy":-14,"fontSize":13,"color":"#555555"},
    "encoding":{"x":{"field":"time","type":"nominal","axis":null},"xOffset":{"field":"pair","type":"nominal"},"y":{"field":"top","type":"quantitative"},"text":{"field":"p"}}}
  ]},
 {"title":{"text":"E","dx":-78.5,"dy":56.7},"width":894.3,"height":93.4,
  "layer":[
   {"data":{"name":"frames"},"transform":[{"filter":"datum.panel=='E'"}],"mark":{"type":"rule","color":"black","strokeWidth":2},
    "encoding":{"x":{"datum":"Preop","type":"nominal","bandPosition":0,"scale":{"domain":["Preop","0","1d","1.5d","2d","2.5d","3d","Mid","ICU","Ward","Discharge"],"paddingInner":0,"paddingOuter":0},"axis":null},
     "y":{"datum":200,"type":"quantitative","scale":{"domain":[200,1075],"nice":false,"zero":false,"clamp":true}},
     "y2":{"datum":600}}},
   {"data":{"name":"boxes"},"transform":[{"filter":"datum.panel=='E' && datum.max>=200"}],"mark":{"type":"rule"},
    "encoding":{"x":{"field":"time","type":"nominal","axis":null},"xOffset":{"field":"series","type":"nominal","scale":{"domain":["Balloon","Conventional","Balloon change","Conventional change"],"paddingInner":0,"paddingOuter":0}},
     "y":{"field":"max","type":"quantitative","axis":{"values":[200,400,600],"domain":false,"format":"d","labelFontSize":13.5,"tickSize":6,"tickWidth":2,"labelPadding":2,"title":null}},"y2":{"datum":200},
     "color":{"field":"series","type":"nominal","scale":{"domain":["Balloon","Conventional","Balloon change","Conventional change"],"range":["#0000f0","#ff40cc","#1f8a1f","#8b2aa8"]},"legend":null},
     "strokeWidth":{"field":"series","type":"nominal","scale":{"domain":["Balloon","Conventional","Balloon change","Conventional change"],"range":[3,3,1.8,1.8]},"legend":null}}},
   {"data":{"name":"boxes"},"transform":[{"filter":"datum.panel=='E' && datum.max>=200 && (datum.series=='Balloon' || datum.series=='Conventional')"}],"mark":{"type":"tick","orient":"horizontal","size":10,"thickness":3.5},
    "encoding":{"x":{"field":"time","type":"nominal","axis":null},"xOffset":{"field":"series","type":"nominal"},"y":{"field":"max","type":"quantitative"},
     "color":{"field":"series","type":"nominal","legend":null}}},
   {"data":{"name":"boxes"},"transform":[{"filter":"datum.panel=='E' && datum.max>=200 && (datum.series=='Balloon change' || datum.series=='Conventional change')"}],"mark":{"type":"tick","orient":"horizontal","size":8,"thickness":2},
    "encoding":{"x":{"field":"time","type":"nominal","axis":null},"xOffset":{"field":"series","type":"nominal"},"y":{"field":"max","type":"quantitative"},
     "color":{"field":"series","type":"nominal","legend":null}}},
   {"data":{"name":"pvals"},"transform":[{"filter":"datum.panel=='E' && datum.top>=200 && datum.pair=='Balloon'"}],"mark":{"type":"text","dx":10.2,"dy":-18.5,"fontSize":13,"color":"#555555"},
    "encoding":{"x":{"field":"time","type":"nominal","axis":null},"xOffset":{"field":"pair","type":"nominal"},"y":{"field":"top","type":"quantitative"},"text":{"field":"p"}}},
   {"data":{"name":"pvals"},"transform":[{"filter":"datum.panel=='E' && datum.top>=200 && datum.pair=='Balloon change'"}],"mark":{"type":"text","dx":10.2,"dy":-14,"fontSize":13,"color":"#555555"},
    "encoding":{"x":{"field":"time","type":"nominal","axis":null},"xOffset":{"field":"pair","type":"nominal"},"y":{"field":"top","type":"quantitative"},"text":{"field":"p"}}}
  ]},
 {"width":897.6,"height":361.6,
  "layer":[
   {"data":{"name":"bands"},"transform":[{"filter":"datum.panel=='C'"}],"mark":{"type":"rect","color":"#9ef59e"},
    "encoding":{"x":{"datum":"Preop","type":"nominal","bandPosition":0,"scale":{"domain":["Preop","0","1d","1.5d","2d","2.5d","3d","Mid","ICU","Ward","Discharge"],"paddingInner":0,"paddingOuter":0},"axis":null},
     "x2":{"datum":"Discharge","bandPosition":0.5},
     "y":{"field":"lo","type":"quantitative","scale":{"domain":[-150,190],"nice":false,"zero":false,"clamp":true},
      "axis":{"values":[-150,0,150,190],"labelExpr":"datum.value==190?'':''+datum.value","labelFontSize":13.5,"tickSize":6,"tickWidth":2,"domainWidth":2,"labelPadding":2,"title":"ALT U/L","titleFontSize":16,"titleX":-48,"titleY":151,"titleBaseline":"bottom","titleAngle":-90,"titleAlign":"center"}},
     "y2":{"field":"hi"}}},
   {"data":{"name":"frames"},"transform":[{"filter":"datum.panel=='C'"}],"mark":{"type":"rule","color":"black","strokeWidth":2.5},
    "encoding":{"x":{"datum":"Preop","type":"nominal","bandPosition":0,"axis":null},"x2":{"datum":"Discharge","bandPosition":0.5},"y":{"datum":0,"type":"quantitative"}}},
   {"data":{"name":"times"},"mark":{"type":"rule","color":"black","strokeWidth":2},
    "encoding":{"x":{"field":"time","type":"nominal","bandPosition":0.125,"axis":null},"y":{"datum":0,"type":"quantitative"},"y2":{"datum":-5}}},
   {"data":{"name":"times"},"mark":{"type":"text","align":"left","baseline":"middle","dx":3,"dy":16.5,"fontWeight":"bold","fontSize":15,"color":"black"},
    "encoding":{"x":{"field":"time","type":"nominal","bandPosition":0,"axis":null},"y":{"datum":0,"type":"quantitative"},"text":{"field":"labC"}}},
   {"data":{"name":"boxes"},"transform":[{"filter":"datum.panel=='C'"}],"mark":{"type":"rule"},
    "encoding":{"x":{"field":"time","type":"nominal","axis":null},"xOffset":{"field":"series","type":"nominal","scale":{"domain":["Balloon","Conventional","Balloon change","Conventional change"],"paddingInner":0,"paddingOuter":0}},
     "y":{"field":"min","type":"quantitative"},"y2":{"field":"q1"},
     "color":{"field":"series","type":"nominal","scale":{"domain":["Balloon","Conventional","Balloon change","Conventional change"],"range":["#0000f0","#ff40cc","#1f8a1f","#8b2aa8"]},"legend":null},
     "strokeWidth":{"field":"series","type":"nominal","scale":{"domain":["Balloon","Conventional","Balloon change","Conventional change"],"range":[3,3,1.8,1.8]},"legend":null}}},
   {"data":{"name":"boxes"},"transform":[{"filter":"datum.panel=='C'"}],"mark":{"type":"rule"},
    "encoding":{"x":{"field":"time","type":"nominal","axis":null},"xOffset":{"field":"series","type":"nominal"},
     "y":{"field":"q3","type":"quantitative"},"y2":{"field":"max"},
     "color":{"field":"series","type":"nominal","legend":null},"strokeWidth":{"field":"series","type":"nominal","legend":null}}},
   {"data":{"name":"boxes"},"transform":[{"filter":"datum.panel=='C'"}],"mark":{"type":"bar","width":13,"filled":false},
    "encoding":{"x":{"field":"time","type":"nominal","axis":null},"xOffset":{"field":"series","type":"nominal"},
     "y":{"field":"q1","type":"quantitative"},"y2":{"field":"q3"},
     "color":{"field":"series","type":"nominal","legend":null},"strokeWidth":{"field":"series","type":"nominal","legend":null}}},
   {"data":{"name":"boxes"},"transform":[{"filter":"datum.panel=='C'"}],"mark":{"type":"tick","orient":"horizontal","size":13,"thickness":2},
    "encoding":{"x":{"field":"time","type":"nominal","axis":null},"xOffset":{"field":"series","type":"nominal"},
     "y":{"field":"med","type":"quantitative"},"color":{"field":"series","type":"nominal","legend":null}}},
   {"data":{"name":"boxes"},"transform":[{"filter":"datum.panel=='C' && (datum.series=='Balloon' || datum.series=='Conventional')"},{"fold":["min","max"],"as":["stat","v"]},{"filter":"datum.v<=190"}],"mark":{"type":"tick","orient":"horizontal","size":10,"thickness":3.5},
    "encoding":{"x":{"field":"time","type":"nominal","axis":null},"xOffset":{"field":"series","type":"nominal"},
     "y":{"field":"v","type":"quantitative"},"color":{"field":"series","type":"nominal","legend":null}}},
   {"data":{"name":"boxes"},"transform":[{"filter":"datum.panel=='C' && (datum.series=='Balloon change' || datum.series=='Conventional change')"},{"fold":["min","max"],"as":["stat","v"]},{"filter":"datum.v<=190"}],"mark":{"type":"tick","orient":"horizontal","size":8,"thickness":2},
    "encoding":{"x":{"field":"time","type":"nominal","axis":null},"xOffset":{"field":"series","type":"nominal"},
     "y":{"field":"v","type":"quantitative"},"color":{"field":"series","type":"nominal","legend":null}}},
   {"data":{"name":"pvals"},"transform":[{"filter":"datum.panel=='C' && datum.top<200 && datum.pair=='Balloon'"}],"mark":{"type":"text","dx":10.2,"dy":-18.5,"fontSize":13,"color":"#555555"},
    "encoding":{"x":{"field":"time","type":"nominal","axis":null},"xOffset":{"field":"pair","type":"nominal"},"y":{"field":"top","type":"quantitative"},"text":{"field":"p"}}},
   {"data":{"name":"pvals"},"transform":[{"filter":"datum.panel=='C' && datum.top<200 && datum.pair=='Balloon change'"}],"mark":{"type":"text","dx":10.2,"dy":-14,"fontSize":13,"color":"#555555"},
    "encoding":{"x":{"field":"time","type":"nominal","axis":null},"xOffset":{"field":"pair","type":"nominal"},"y":{"field":"top","type":"quantitative"},"text":{"field":"p"}}}
  ]},
 {"width":894.3,"height":361.6,
  "layer":[
   {"data":{"name":"bands"},"transform":[{"filter":"datum.panel=='E'"}],"mark":{"type":"rect","color":"#9ef59e"},
    "encoding":{"x":{"datum":"Preop","type":"nominal","bandPosition":0,"scale":{"domain":["Preop","0","1d","1.5d","2d","2.5d","3d","Mid","ICU","Ward","Discharge"],"paddingInner":0,"paddingOuter":0},"axis":null},
     "x2":{"datum":"Discharge","bandPosition":0.5},
     "y":{"field":"lo","type":"quantitative","scale":{"domain":[-150,190],"nice":false,"zero":false,"clamp":true},
      "axis":{"values":[-150,0,150,190],"labelExpr":"datum.value==190?'':''+datum.value","labelFontSize":13.5,"tickSize":6,"tickWidth":2,"domainWidth":2,"labelPadding":2,"title":"AST U/L","titleFontSize":16,"titleX":-48,"titleY":151,"titleBaseline":"bottom","titleAngle":-90,"titleAlign":"center"}},
     "y2":{"field":"hi"}}},
   {"data":{"name":"frames"},"transform":[{"filter":"datum.panel=='E'"}],"mark":{"type":"rule","color":"black","strokeWidth":2.5},
    "encoding":{"x":{"datum":"Preop","type":"nominal","bandPosition":0,"axis":null},"x2":{"datum":"Discharge","bandPosition":0.5},"y":{"datum":0,"type":"quantitative"}}},
   {"data":{"name":"times"},"mark":{"type":"rule","color":"black","strokeWidth":2},
    "encoding":{"x":{"field":"time","type":"nominal","bandPosition":0.125,"axis":null},"y":{"datum":0,"type":"quantitative"},"y2":{"datum":-5}}},
   {"data":{"name":"times"},"mark":{"type":"text","align":"left","baseline":"middle","dx":3,"dy":16.5,"fontWeight":"bold","fontSize":15,"color":"black"},
    "encoding":{"x":{"field":"time","type":"nominal","bandPosition":0,"axis":null},"y":{"datum":0,"type":"quantitative"},"text":{"field":"labE"}}},
   {"data":{"name":"boxes"},"transform":[{"filter":"datum.panel=='E'"}],"mark":{"type":"rule"},
    "encoding":{"x":{"field":"time","type":"nominal","axis":null},"xOffset":{"field":"series","type":"nominal","scale":{"domain":["Balloon","Conventional","Balloon change","Conventional change"],"paddingInner":0,"paddingOuter":0}},
     "y":{"field":"min","type":"quantitative"},"y2":{"field":"q1"},
     "color":{"field":"series","type":"nominal","scale":{"domain":["Balloon","Conventional","Balloon change","Conventional change"],"range":["#0000f0","#ff40cc","#1f8a1f","#8b2aa8"]},"legend":null},
     "strokeWidth":{"field":"series","type":"nominal","scale":{"domain":["Balloon","Conventional","Balloon change","Conventional change"],"range":[3,3,1.8,1.8]},"legend":null}}},
   {"data":{"name":"boxes"},"transform":[{"filter":"datum.panel=='E'"}],"mark":{"type":"rule"},
    "encoding":{"x":{"field":"time","type":"nominal","axis":null},"xOffset":{"field":"series","type":"nominal"},
     "y":{"field":"q3","type":"quantitative"},"y2":{"field":"max"},
     "color":{"field":"series","type":"nominal","legend":null},"strokeWidth":{"field":"series","type":"nominal","legend":null}}},
   {"data":{"name":"boxes"},"transform":[{"filter":"datum.panel=='E'"}],"mark":{"type":"bar","width":13,"filled":false},
    "encoding":{"x":{"field":"time","type":"nominal","axis":null},"xOffset":{"field":"series","type":"nominal"},
     "y":{"field":"q1","type":"quantitative"},"y2":{"field":"q3"},
     "color":{"field":"series","type":"nominal","legend":null},"strokeWidth":{"field":"series","type":"nominal","legend":null}}},
   {"data":{"name":"boxes"},"transform":[{"filter":"datum.panel=='E'"}],"mark":{"type":"tick","orient":"horizontal","size":13,"thickness":2},
    "encoding":{"x":{"field":"time","type":"nominal","axis":null},"xOffset":{"field":"series","type":"nominal"},
     "y":{"field":"med","type":"quantitative"},"color":{"field":"series","type":"nominal","legend":null}}},
   {"data":{"name":"boxes"},"transform":[{"filter":"datum.panel=='E' && (datum.series=='Balloon' || datum.series=='Conventional')"},{"fold":["min","max"],"as":["stat","v"]},{"filter":"datum.v<=190"}],"mark":{"type":"tick","orient":"horizontal","size":10,"thickness":3.5},
    "encoding":{"x":{"field":"time","type":"nominal","axis":null},"xOffset":{"field":"series","type":"nominal"},
     "y":{"field":"v","type":"quantitative"},"color":{"field":"series","type":"nominal","legend":null}}},
   {"data":{"name":"boxes"},"transform":[{"filter":"datum.panel=='E' && (datum.series=='Balloon change' || datum.series=='Conventional change')"},{"fold":["min","max"],"as":["stat","v"]},{"filter":"datum.v<=190"}],"mark":{"type":"tick","orient":"horizontal","size":8,"thickness":2},
    "encoding":{"x":{"field":"time","type":"nominal","axis":null},"xOffset":{"field":"series","type":"nominal"},
     "y":{"field":"v","type":"quantitative"},"color":{"field":"series","type":"nominal","legend":null}}},
   {"data":{"name":"pvals"},"transform":[{"filter":"datum.panel=='E' && datum.top<200 && datum.pair=='Balloon'"}],"mark":{"type":"text","dx":10.2,"dy":-18.5,"fontSize":13,"color":"#555555"},
    "encoding":{"x":{"field":"time","type":"nominal","axis":null},"xOffset":{"field":"pair","type":"nominal"},"y":{"field":"top","type":"quantitative"},"text":{"field":"p"}}},
   {"data":{"name":"pvals"},"transform":[{"filter":"datum.panel=='E' && datum.top<200 && datum.pair=='Balloon change'"}],"mark":{"type":"text","dx":10.2,"dy":-14,"fontSize":13,"color":"#555555"},
    "encoding":{"x":{"field":"time","type":"nominal","axis":null},"xOffset":{"field":"pair","type":"nominal"},"y":{"field":"top","type":"quantitative"},"text":{"field":"p"}}}
  ]},
 {"title":{"text":"D","dx":-89,"dy":36.7},"width":897.6,"height":258,
  "layer":[
   {"data":{"name":"frames"},"transform":[{"filter":"datum.panel=='D'"}],"mark":{"type":"rule","color":"black","strokeWidth":2},
    "encoding":{"x":{"datum":"Preop","type":"nominal","bandPosition":0,"scale":{"domain":["Preop","0","1d","1.5d","2d","2.5d","3d","Mid","ICU","Ward","Discharge"],"paddingInner":0,"paddingOuter":0},"axis":null},
     "y":{"datum":0,"type":"quantitative","scale":{"domain":[0,1284.6],"nice":false,"zero":false}},
     "y2":{"datum":1200}}},
   {"data":{"name":"frames"},"transform":[{"filter":"datum.panel=='D'"}],"mark":{"type":"rule","color":"black","strokeWidth":2.5},
    "encoding":{"x":{"datum":"Preop","type":"nominal","bandPosition":0,"axis":null},"x2":{"datum":"Discharge","bandPosition":0.5},"y":{"datum":0,"type":"quantitative"}}},
   {"data":{"name":"times"},"mark":{"type":"rule","color":"black","strokeWidth":2},
    "encoding":{"x":{"field":"time","type":"nominal","bandPosition":0.125,"axis":null},"y":{"datum":0,"type":"quantitative"},"y2":{"datum":-30}}},
   {"data":{"name":"times"},"mark":{"type":"text","align":"left","baseline":"middle","dx":3,"dy":17.4,"fontWeight":"bold","fontSize":15,"color":"black"},
    "encoding":{"x":{"field":"time","type":"nominal","bandPosition":0,"axis":null},"y":{"datum":0,"type":"quantitative"},"text":{"field":"labE"}}},
   {"data":{"name":"boxes"},"transform":[{"filter":"datum.panel=='D'"}],"mark":{"type":"rule"},
    "encoding":{"x":{"field":"time","type":"nominal","axis":null},
     "xOffset":{"field":"series","type":"nominal","scale":{"domain":["Balloon","Conventional","Balloon change","Conventional change"],"paddingInner":0,"paddingOuter":0}},
     "y":{"field":"min","type":"quantitative","axis":{"values":[0,300,600,900,1200],"domain":false,"format":"d","labelFontSize":13.5,"tickSize":6,"tickWidth":2,"labelPadding":2,"title":"Percentage %","titleFontSize":16,"titleX":-51,"titleY":140.4,"titleBaseline":"bottom","titleAngle":-90,"titleAlign":"center"}},"y2":{"field":"q1"},
     "color":{"field":"series","type":"nominal","scale":{"domain":["Balloon","Conventional","Balloon change","Conventional change"],"range":["#0000f0","#ff40cc","#1f8a1f","#8b2aa8"]},"legend":null}}},
   {"data":{"name":"boxes"},"transform":[{"filter":"datum.panel=='D'"}],"mark":{"type":"rule","strokeWidth":3},
    "encoding":{"x":{"field":"time","type":"nominal","axis":null},"xOffset":{"field":"series","type":"nominal"},
     "y":{"field":"q3","type":"quantitative"},"y2":{"field":"max"},"color":{"field":"series","type":"nominal","legend":null}}},
   {"data":{"name":"boxes"},"transform":[{"filter":"datum.panel=='D'"}],"mark":{"type":"bar","width":15,"filled":false,"strokeWidth":3},
    "encoding":{"x":{"field":"time","type":"nominal","axis":null},"xOffset":{"field":"series","type":"nominal"},
     "y":{"field":"q1","type":"quantitative"},"y2":{"field":"q3"},"color":{"field":"series","type":"nominal","legend":null}}},
   {"data":{"name":"boxes"},"transform":[{"filter":"datum.panel=='D'"}],"mark":{"type":"tick","orient":"horizontal","size":15,"thickness":2.5},
    "encoding":{"x":{"field":"time","type":"nominal","axis":null},"xOffset":{"field":"series","type":"nominal"},
     "y":{"field":"med","type":"quantitative"},"color":{"field":"series","type":"nominal","legend":null}}},
   {"data":{"name":"boxes"},"transform":[{"filter":"datum.panel=='D'"},{"fold":["min","max"],"as":["stat","v"]}],"mark":{"type":"tick","orient":"horizontal","size":10,"thickness":3.5},
    "encoding":{"x":{"field":"time","type":"nominal","axis":null},"xOffset":{"field":"series","type":"nominal"},
     "y":{"field":"v","type":"quantitative"},"color":{"field":"series","type":"nominal","legend":null}}},
   {"data":{"name":"pvals"},"transform":[{"filter":"datum.panel=='D'"}],"mark":{"type":"text","dx":10.2,"dy":-18,"fontSize":13,"color":"#555555"},
    "encoding":{"x":{"field":"time","type":"nominal","axis":null},"xOffset":{"field":"pair","type":"nominal"},"y":{"field":"top","type":"quantitative"},"text":{"field":"p"}}}
  ]},
 {"title":{"text":"F","dx":-78.5,"dy":37.2},"width":894.3,"height":258,
  "layer":[
   {"data":{"name":"frames"},"transform":[{"filter":"datum.panel=='F'"}],"mark":{"type":"rule","color":"black","strokeWidth":2},
    "encoding":{"x":{"datum":"Preop","type":"nominal","bandPosition":0,"scale":{"domain":["Preop","0","1d","1.5d","2d","2.5d","3d","Mid","ICU","Ward","Discharge"],"paddingInner":0,"paddingOuter":0},"axis":null},
     "y":{"datum":0,"type":"quantitative","scale":{"domain":[0,1284.6],"nice":false,"zero":false}},
     "y2":{"datum":1200}}},
   {"data":{"name":"frames"},"transform":[{"filter":"datum.panel=='F'"}],"mark":{"type":"rule","color":"black","strokeWidth":2.5},
    "encoding":{"x":{"datum":"Preop","type":"nominal","bandPosition":0,"axis":null},"x2":{"datum":"Discharge","bandPosition":0.5},"y":{"datum":0,"type":"quantitative"}}},
   {"data":{"name":"times"},"mark":{"type":"rule","color":"black","strokeWidth":2},
    "encoding":{"x":{"field":"time","type":"nominal","bandPosition":0.125,"axis":null},"y":{"datum":0,"type":"quantitative"},"y2":{"datum":-30}}},
   {"data":{"name":"times"},"mark":{"type":"text","align":"left","baseline":"middle","dx":3,"dy":17.4,"fontWeight":"bold","fontSize":15,"color":"black"},
    "encoding":{"x":{"field":"time","type":"nominal","bandPosition":0,"axis":null},"y":{"datum":0,"type":"quantitative"},"text":{"field":"labE"}}},
   {"data":{"name":"boxes"},"transform":[{"filter":"datum.panel=='F'"}],"mark":{"type":"rule"},
    "encoding":{"x":{"field":"time","type":"nominal","axis":null},
     "xOffset":{"field":"series","type":"nominal","scale":{"domain":["Balloon","Conventional","Balloon change","Conventional change"],"paddingInner":0,"paddingOuter":0}},
     "y":{"field":"min","type":"quantitative","axis":{"values":[0,300,600,900,1200],"domain":false,"format":"d","labelFontSize":13.5,"tickSize":6,"tickWidth":2,"labelPadding":2,"title":"Percentage %","titleFontSize":16,"titleX":-51,"titleY":140.4,"titleBaseline":"bottom","titleAngle":-90,"titleAlign":"center"}},"y2":{"field":"q1"},
     "color":{"field":"series","type":"nominal","scale":{"domain":["Balloon","Conventional","Balloon change","Conventional change"],"range":["#0000f0","#ff40cc","#1f8a1f","#8b2aa8"]},"legend":null}}},
   {"data":{"name":"boxes"},"transform":[{"filter":"datum.panel=='F'"}],"mark":{"type":"rule","strokeWidth":3},
    "encoding":{"x":{"field":"time","type":"nominal","axis":null},"xOffset":{"field":"series","type":"nominal"},
     "y":{"field":"q3","type":"quantitative"},"y2":{"field":"max"},"color":{"field":"series","type":"nominal","legend":null}}},
   {"data":{"name":"boxes"},"transform":[{"filter":"datum.panel=='F'"}],"mark":{"type":"bar","width":15,"filled":false,"strokeWidth":3},
    "encoding":{"x":{"field":"time","type":"nominal","axis":null},"xOffset":{"field":"series","type":"nominal"},
     "y":{"field":"q1","type":"quantitative"},"y2":{"field":"q3"},"color":{"field":"series","type":"nominal","legend":null}}},
   {"data":{"name":"boxes"},"transform":[{"filter":"datum.panel=='F'"}],"mark":{"type":"tick","orient":"horizontal","size":15,"thickness":2.5},
    "encoding":{"x":{"field":"time","type":"nominal","axis":null},"xOffset":{"field":"series","type":"nominal"},
     "y":{"field":"med","type":"quantitative"},"color":{"field":"series","type":"nominal","legend":null}}},
   {"data":{"name":"boxes"},"transform":[{"filter":"datum.panel=='F'"},{"fold":["min","max"],"as":["stat","v"]}],"mark":{"type":"tick","orient":"horizontal","size":10,"thickness":3.5},
    "encoding":{"x":{"field":"time","type":"nominal","axis":null},"xOffset":{"field":"series","type":"nominal"},
     "y":{"field":"v","type":"quantitative"},"color":{"field":"series","type":"nominal","legend":null}}},
   {"data":{"name":"pvals"},"transform":[{"filter":"datum.panel=='F'"}],"mark":{"type":"text","dx":10.2,"dy":-18,"fontSize":13,"color":"#555555"},
    "encoding":{"x":{"field":"time","type":"nominal","axis":null},"xOffset":{"field":"pair","type":"nominal"},"y":{"field":"top","type":"quantitative"},"text":{"field":"p"}}}
  ]}
]
}
